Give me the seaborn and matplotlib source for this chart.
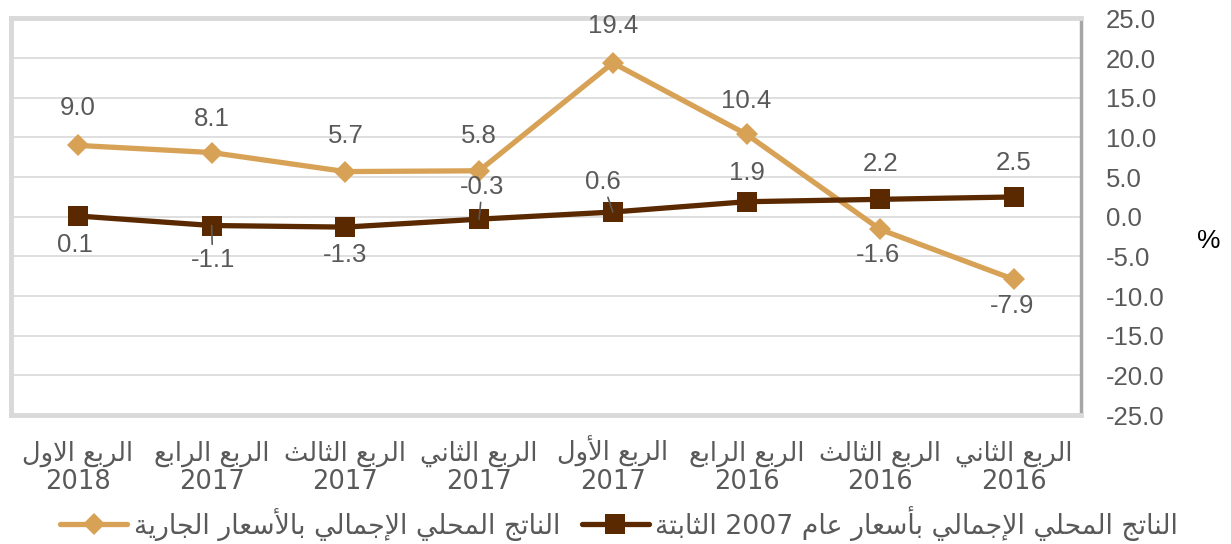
import re
import pandas as pd
import matplotlib
matplotlib.use('Agg')
import matplotlib.pyplot as plt
import seaborn as sns
from matplotlib.lines import Line2D

quarters = ['الربع الاول', 'الربع الرابع', 'الربع الثالث', 'الربع الثاني',
            'الربع الأول', 'الربع الرابع', 'الربع الثالث', 'الربع الثاني']
years = ['2018', '2017', '2017', '2017', '2017', '2016', '2016', '2016']
current_prices = [9.0, 8.1, 5.7, 5.8, 19.4, 10.4, -1.6, -7.9]
constant_prices = [0.1, -1.1, -1.3, -0.3, 0.6, 1.9, 2.2, 2.5]
name_current = 'الناتج المحلي الإجمالي بالأسعار الجارية'
name_constant = 'الناتج المحلي الإجمالي بأسعار عام 2007 الثابتة'
y_ticks = [25, 20, 15, 10, 5, 0, -5, -10, -15, -20, -25]

# label offsets in pixels (dx, dy) per point
off_current = [(0, 37), (0, 34), (0, 36), (0, 35), (0, 37), (0, 33), (-2, -26), (-2, -27)]
off_constant = [(-3, -29), (1, -34), (0, -28), (3, 32), (-10, 30), (0, 29), (0, 35), (0, 34)]

# --- tiny arabic shaper (matplotlib has no text shaping) ---
FORMS = {  # isolated, final, initial, medial
    'ا': ('\uFE8D', '\uFE8E', None, None),
    'أ': ('\uFE83', '\uFE84', None, None),
    'إ': ('\uFE87', '\uFE88', None, None),
    'ب': ('\uFE8F', '\uFE90', '\uFE91', '\uFE92'),
    'ة': ('\uFE93', '\uFE94', None, None),
    'ت': ('\uFE95', '\uFE96', '\uFE97', '\uFE98'),
    'ث': ('\uFE99', '\uFE9A', '\uFE9B', '\uFE9C'),
    'ج': ('\uFE9D', '\uFE9E', '\uFE9F', '\uFEA0'),
    'ح': ('\uFEA1', '\uFEA2', '\uFEA3', '\uFEA4'),
    'ر': ('\uFEAD', '\uFEAE', None, None),
    'س': ('\uFEB1', '\uFEB2', '\uFEB3', '\uFEB4'),
    'ع': ('\uFEC9', '\uFECA', '\uFECB', '\uFECC'),
    'ل': ('\uFEDD', '\uFEDE', '\uFEDF', '\uFEE0'),
    'م': ('\uFEE1', '\uFEE2', '\uFEE3', '\uFEE4'),
    'ن': ('\uFEE5', '\uFEE6', '\uFEE7', '\uFEE8'),
    'و': ('\uFEED', '\uFEEE', None, None),
    'ي': ('\uFEF1', '\uFEF2', '\uFEF3', '\uFEF4'),
}
LAM_ALEF = {'ا': ('\uFEFB', '\uFEFC'), 'أ': ('\uFEF7', '\uFEF8'), 'إ': ('\uFEF9', '\uFEFA')}


def shape(s):
    out = []
    i = 0
    while i < len(s):
        c = s[i]
        if c not in FORMS:
            out.append(c)
            i += 1
            continue
        prev = s[i - 1] if i > 0 else ''
        joins_prev = prev in FORMS and FORMS[prev][2] is not None
        if c == 'ل' and i + 1 < len(s) and s[i + 1] in LAM_ALEF:
            out.append(LAM_ALEF[s[i + 1]][1 if joins_prev else 0])
            i += 2
            continue
        nxt = s[i + 1] if i + 1 < len(s) else ''
        joins_next = FORMS[c][2] is not None and nxt in FORMS
        iso, fin, ini, med = FORMS[c]
        if joins_prev and joins_next:
            out.append(med)
        elif joins_next:
            out.append(ini)
        elif joins_prev:
            out.append(fin)
        else:
            out.append(iso)
        i += 1
    return ''.join(out)


def ar(s):
    parts = re.split(r'([0-9]+)', shape(s))
    parts = [p if re.fullmatch(r'[0-9]+', p) else p[::-1] for p in parts]
    return ''.join(parts[::-1])


sns.set_theme(style='white')
plt.rcParams['font.family'] = ['Liberation Sans', 'DejaVu Sans']

TAN = '#D8A256'
BROWN = '#5A2900'
GREY = '#595959'

df = pd.DataFrame({
    'pos': list(range(len(quarters))) * 2,
    'value': current_prices + constant_prices,
    'series': [name_current] * len(quarters) + [name_constant] * len(quarters),
})

fig, ax = plt.subplots(figsize=(12.31, 5.44), dpi=100)
fig.subplots_adjust(left=0.009, right=0.878, top=0.966, bottom=0.237)

sns.lineplot(data=df, x='pos', y='value', hue='series', style='series',
             palette={name_current: TAN, name_constant: BROWN},
             markers={name_current: 'D', name_constant: 's'}, dashes=False,
             linewidth=3.8, markersize=11, markeredgewidth=0, legend=False, ax=ax)
for ln in ax.lines:
    if ln.get_color() == BROWN or ln.get_markerfacecolor() == BROWN:
        ln.set_markersize(14)

for i, (v, (dx, dy)) in enumerate(zip(current_prices, off_current)):
    ax.annotate(f'{v:.1f}', (i, v), xytext=(dx, dy), textcoords='offset pixels',
                ha='center', va='center', fontsize=18.5, color=GREY)
for i, (v, (dx, dy)) in enumerate(zip(constant_prices, off_constant)):
    lead = dict(arrowstyle='-', color=GREY, lw=1.2, shrinkA=15, shrinkB=0) if i in (1, 3, 4) else None
    ax.annotate(f'{v:.1f}', (i, v), xytext=(dx, dy), textcoords='offset pixels',
                ha='center', va='center', fontsize=18.5, color=GREY, arrowprops=lead)

ax.set_xlim(-0.5, len(quarters) - 0.5)
ax.set_ylim(-25, 25)
# quarter names on major ticks, years on minor ticks at the same spots
ax.xaxis.remove_overlapping_locs = False
ax.set_xticks(range(len(quarters)))
ax.set_xticklabels([ar(q) for q in quarters], fontsize=18.5, color=GREY, family='DejaVu Sans')
ax.set_xticks(range(len(quarters)), minor=True)
ax.set_xticklabels(years, minor=True, fontsize=18.5, color=GREY, family='DejaVu Sans')
ax.tick_params(axis='x', which='major', length=0, pad=33)
ax.tick_params(axis='x', which='minor', length=0, pad=53.5)
for t in ax.get_xticklabels(which='both'):
    t.set_verticalalignment('baseline')

ax.yaxis.tick_right()
ax.set_yticks(y_ticks)
ax.set_yticklabels([f'{t:.1f}' for t in y_ticks], fontsize=18.5, color=GREY)
ax.tick_params(axis='y', length=0, pad=18)
for t in ax.get_yticklabels():
    t.set_horizontalalignment('left')
ax.set_ylabel('%', rotation=0, fontsize=19, color='black')
ax.yaxis.set_label_position('right')
ax.yaxis.set_label_coords(1.12, 0.47)
ax.set_xlabel('')

ax.grid(axis='y', color='#D9D9D9', linewidth=1.2)
for side in ['left', 'top', 'bottom']:
    ax.spines[side].set_color('#D9D9D9')
    ax.spines[side].set_linewidth(3.5)
ax.spines['right'].set_color('#A6A6A6')
ax.spines['right'].set_linewidth(2.5)

handles = [Line2D([], [], color=TAN, lw=3.8, marker='D', markersize=11, markeredgewidth=0),
           Line2D([], [], color=BROWN, lw=3.8, marker='s', markersize=14, markeredgewidth=0)]
fig.legend(handles, [ar(name_current), ar(name_constant)], ncol=2, loc='center',
           bbox_to_anchor=(0.503, 0.038), frameon=False, handlelength=2.5, handletextpad=0.25,
           columnspacing=0.8, prop={'family': 'DejaVu Sans', 'size': 19.3}, labelcolor=GREY)

fig.savefig('out.png', dpi=100)
